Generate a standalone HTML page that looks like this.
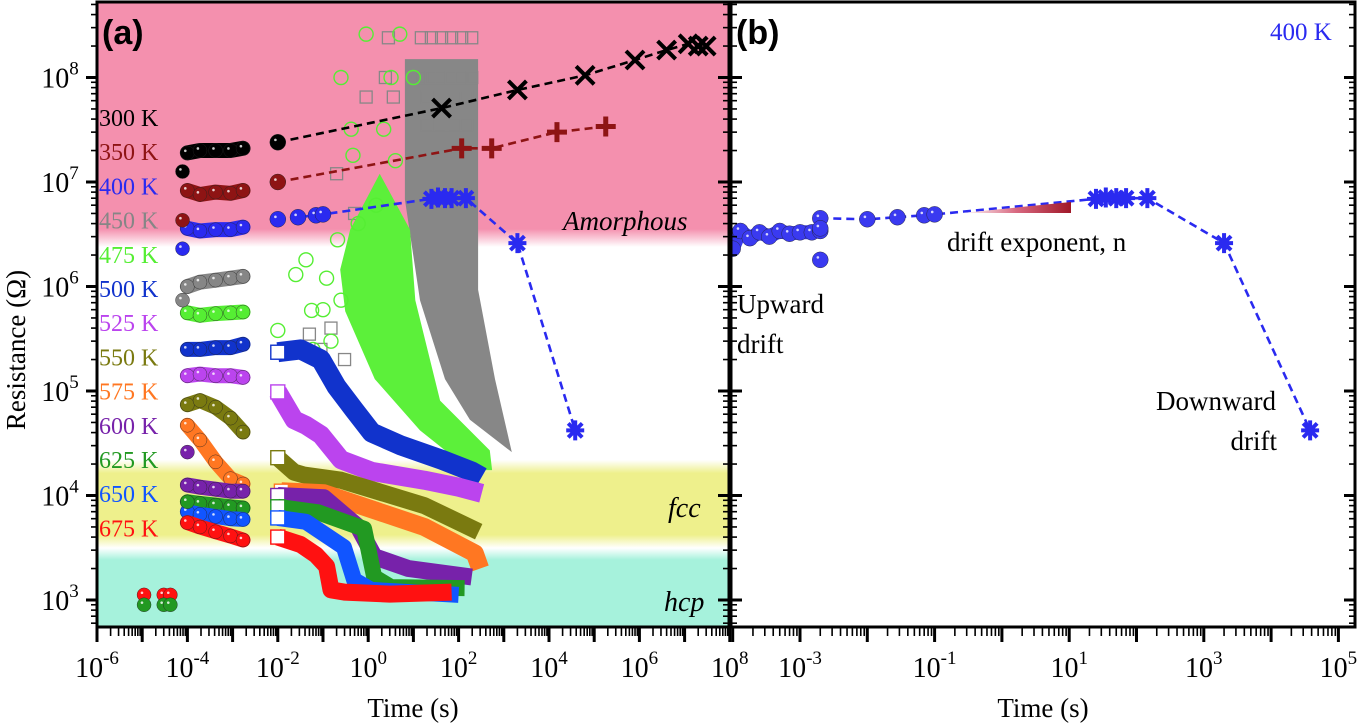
<!DOCTYPE html>
<html><head><meta charset="utf-8">
<style>
html,body{margin:0;padding:0;background:#fff;}
svg{display:block;font-family:"Liberation Serif",serif;}
</style></head>
<body>
<svg id="chart" width="1358" height="725" viewBox="0 0 1358 725" xmlns="http://www.w3.org/2000/svg">
<defs>
  <linearGradient id="pinkfade" x1="0" y1="0" x2="0" y2="1">
    <stop offset="0" stop-color="#f490ae"/><stop offset="1" stop-color="#ffffff"/>
  </linearGradient>
  <linearGradient id="yelband" x1="0" y1="0" x2="0" y2="1">
    <stop offset="0" stop-color="#ffffff"/><stop offset="0.15" stop-color="#eef08c"/><stop offset="0.85" stop-color="#eef08c"/><stop offset="1" stop-color="#ffffff"/>
  </linearGradient>
  <linearGradient id="cyband" x1="0" y1="0" x2="0" y2="1">
    <stop offset="0" stop-color="#ffffff"/><stop offset="0.15" stop-color="#a6f2dc"/><stop offset="1" stop-color="#a6f2dc"/>
  </linearGradient>
  <linearGradient id="drifttri" x1="0" y1="0" x2="1" y2="0">
    <stop offset="0" stop-color="#ffffff"/><stop offset="0.5" stop-color="#d86880"/><stop offset="1" stop-color="#a01828"/>
  </linearGradient>
  <clipPath id="clipA"><rect x="97" y="2" width="632" height="625"/></clipPath>
  <clipPath id="clipB"><rect x="731" y="2" width="624" height="625"/></clipPath>
</defs>
<g id="bg">
  <rect x="97" y="2" width="632" height="228" fill="#f490ae"/>
  <rect x="97" y="229" width="632" height="18" fill="url(#pinkfade)"/>
  <rect x="97" y="460" width="632" height="88" fill="url(#yelband)"/>
  <rect x="97" y="548" width="632" height="79" fill="url(#cyband)"/>
</g>
<g id="plotA" clip-path="url(#clipA)"></g>
<g id="plotB" clip-path="url(#clipB)"></g>
<g id="axes"></g>
<g id="labels">
  <text x="102" y="44" font-family="Liberation Sans, sans-serif" font-weight="bold" font-size="34">(a)</text>
  <text x="736" y="44" font-family="Liberation Sans, sans-serif" font-weight="bold" font-size="34">(b)</text>
  <text x="563" y="230" font-style="italic" font-size="27">Amorphous</text>
  <text x="668" y="517" font-style="italic" font-size="28">fcc</text>
  <text x="664" y="611" font-style="italic" font-size="28">hcp</text>
  <text x="1270" y="40" fill="#2a2af0" font-size="25">400 K</text>
  <text x="737" y="313" font-size="27">Upward</text>
  <text x="737" y="353" font-size="27">drift</text>
  <text x="947" y="251" font-size="27">drift exponent, n</text>
  <text x="1276" y="410" text-anchor="end" font-size="27">Downward</text>
  <text x="1277" y="450" text-anchor="end" font-size="27">drift</text>
  <polygon points="962,213 1071,202 1071,213" fill="url(#drifttri)"/>
  <text transform="translate(25,350) rotate(-90)" text-anchor="middle" font-size="27">Resistance (Ω)</text>
  <text x="413" y="717" text-anchor="middle" font-size="27">Time (s)</text>
  <text x="1043" y="717" text-anchor="middle" font-size="27">Time (s)</text>
</g>
<script>
// ---------- data ----------
const temps = ["300 K","350 K","400 K","450 K","475 K","500 K","525 K","550 K","575 K","600 K","625 K","650 K","675 K"];
const colors = ["#000000","#8e1414","#2a2af0","#868686","#55ee33","#1133cc","#bb44ee","#7a7a10","#ff7722","#7722aa","#229922","#1155ff","#ff1111"];
const earlyT = [1e-4,1.9e-4,4.2e-4,9e-4,1.7e-3];
const earlyR300 = [1.9e7,2.0e7,2.0e7,2.0e7,2.1e7];
const earlyR350 = [8.3e6,7.6e6,8.0e6,7.8e6,8.3e6];
const earlyR400 = [3.6e6,3.4e6,3.5e6,3.5e6,3.7e6];
const earlyR450 = [1.0e6,1.1e6,1.15e6,1.2e6,1.25e6];
const earlyR475 = [5.6e5,5.3e5,5.5e5,5.6e5,5.7e5];
const earlyR500 = [2.5e5,2.5e5,2.6e5,2.6e5,2.8e5];
const earlyR525 = [1.4e5,1.45e5,1.4e5,1.4e5,1.35e5];
const earlyR550 = [7.4e4,8.1e4,7.0e4,5.5e4,4.05e4];
const earlyR575 = [4.7e4,3.4e4,2.1e4,1.45e4,1.29e4];
const earlyR600 = [1.26e4,1.2e4,1.15e4,1.1e4,1.1e4];
const earlyR625 = [8.7e3,8.4e3,8.1e3,7.8e3,7.6e3];
const earlyR650 = [7.0e3,6.6e3,6.3e3,6.0e3,5.9e3];
const earlyR675 = [5.5e3,5.0e3,4.5e3,4.1e3,3.75e3];
const earlySingleT = [7.8e-5,7.8e-5,7.8e-5,7.8e-5,1e-4,1e-4];
const earlySingleR = [1.26e7,4.3e6,2.3e6,7.4e5,2.6e4,8.7e3];
const earlySingleC = [0,1,2,3,9,10];
const t500 = [0.01,0.032,0.09,0.2,0.49,1.2,5.4,42,195,324];
const R500 = [2.35e5,2.5e5,2.0e5,1.1e5,6.6e4,4.0e4,3.0e4,2.2e4,1.7e4,1.5e4];
const t525 = [0.01,0.023,0.042,0.09,0.25,1.2,17.5,100,324];
const R525 = [9.8e4,5.3e4,4.7e4,3.8e4,2.2e4,1.7e4,1.4e4,1.2e4,1.05e4];
const t550 = [0.01,0.023,0.038,0.25,17.5,278];
const R550 = [2.3e4,1.67e4,1.57e4,1.4e4,8.0e3,4.5e3];
const t575 = [0.012,0.105,17.5,228,300];
const R575 = [1.1e4,1.05e4,5.0e3,2.8e3,2.0e3];
const t600 = [0.01,0.105,0.6,1.36,7.7,195];
const R600 = [1.0e4,9.5e3,5.0e3,2.6e3,2.0e3,1.66e3];
const t625 = [0.01,0.078,0.81,1.36,3.2,136];
const R625 = [7.8e3,6.9e3,4.8e3,1.66e3,1.33e3,1.3e3];
const t650 = [0.01,0.042,0.29,0.49,1.17,100];
const R650 = [6.1e3,5.6e3,3.2e3,1.55e3,1.25e3,1.12e3];
const t675 = [0.01,0.032,0.07,0.12,0.15,0.3,3,70];
const R675 = [4.0e3,3.4e3,2.7e3,2.1e3,1.25e3,1.19e3,1.14e3,1.19e3];
const grayEnvT = [6.5,270,270,640,1500,1500,178,50,14,6.5];
const grayEnvR = [1.5e8,1.5e8,9.3e5,1.3e5,2.6e4,2.6e4,5.3e4,1.3e5,7.4e5,6.8e6];
const greenEnvT = [0.40,1.8,8.4,11,39,490,550,178,14,1.4,0.31,0.24];
const greenEnvR = [3.5e6,1.2e7,3.5e6,7.4e5,8.1e4,2.7e4,1.75e4,1.75e4,4.2e4,1.3e5,5.8e5,1.45e6];
const graySqT = [15,25,42,70,117,195,15,25,42,70,117,195,2.8,2.4,0.9,3.6,0.2,0.5,1.2,0.05,0.09,0.15,0.3,20,40,80,150,20,40,80,150];
const graySqR = [2.4e8,2.4e8,2.4e8,2.4e8,2.4e8,2.4e8,1e8,1e8,1e8,1e8,1e8,1e8,2.4e8,1e8,6.5e7,6.5e7,1.2e7,5e6,3e6,3.5e5,2.5e5,4e5,2e5,6.5e7,6.5e7,6.5e7,6.5e7,3.5e7,3.5e7,3.5e7,3.5e7];
const greenCircT = [0.9,5,0.25,3.2,10,0.42,2.2,0.46,4,0.21,0.025,0.042,0.056,0.01,0.25,0.6,1.5,0.1,0.15,0.06,0.12];
const greenCircR = [2.6e8,2.6e8,1e8,1e8,1e8,3.2e7,3.2e7,1.8e7,1.6e7,2.8e6,1.3e6,1.8e6,5.9e5,3.8e5,7.4e5,4e6,6e6,6e5,3e5,2.5e5,1.2e6];
const t300 = [0.01,42,2000,6.3e4,8e5,4e6,1.2e7,2e7,3e7];
const R300 = [2.4e7,5.1e7,7.6e7,1.05e8,1.47e8,1.83e8,2.1e8,2.0e8,2.0e8];
const t350 = [0.01,117,540,1.5e4,1.8e5];
const R350 = [1.0e7,2.1e7,2.1e7,3.0e7,3.4e7];
const t400 = [0.01,0.028,0.07,0.1];
const R400 = [4.4e6,4.6e6,4.8e6,4.9e6];
const t400s = [25,35,50,70,145,2000,3.8e4];
const R400s = [6.9e6,7.1e6,7.0e6,7.0e6,7.0e6,2.6e6,4.2e4];
const tB = [1e-4,1.3e-4,1.8e-4,2.5e-4,3.5e-4,5e-4,7e-4,1e-3,1.5e-3,2e-3,2e-3,2e-3,2e-3];
const RB = [2.3e6,3.4e6,2.9e6,3.3e6,3.0e6,3.4e6,3.2e6,3.3e6,3.3e6,3.4e6,4.5e6,3.6e6,1.8e6];
const xTicksA = [-6,-4,-2,0,2,4,6,8];
const xTicksB = [-3,-1,1,3,5];
const yTicks = [3,4,5,6,7,8];

// ---------- scales ----------
const L = Math.log10;
function xa(t){ return 97 + (L(t)+6)*45.2; }
function xb(t){ return 800 + (L(t)+3)*67.3; }
function yv(r){ return 600 - (L(r)-3)*104.5; }
const NS = "http://www.w3.org/2000/svg";
const gA = document.getElementById('plotA');
const gB = document.getElementById('plotB');
const gX = document.getElementById('axes');
function mk(tag, attrs, parent){
  const e = document.createElementNS(NS, tag);
  for (const k in attrs) e.setAttribute(k, attrs[k]);
  parent.appendChild(e); return e;
}
function pts(ts, rs, xf){ return ts.map((t,i)=>xf(t).toFixed(1)+','+yv(rs[i]).toFixed(1)).join(' '); }
function ball(x,y,c,r,parent,name){
  const e = mk('circle',{cx:x,cy:y,r:r,fill:c,stroke:'#222','stroke-width':0.4},parent);
  
  
  const h = mk('circle',{cx:x-r*0.3,cy:y-r*0.3,r:1.3,fill:'#fff','fill-opacity':0.8},parent);
  
  
}
function powLabel(x,y,exp,anchor,name){
  const t = mk('text',{x:x,y:y,'text-anchor':anchor,'font-size':28},gX);
  
  
  t.appendChild(document.createTextNode('10'));
  const s = document.createElementNS(NS,'tspan');
  s.setAttribute('dy','-13');
  s.setAttribute('font-size','19');
  s.textContent = String(exp);
  t.appendChild(s);
}

// ---------- panel a ----------
let e;
e = mk('polygon',{points:pts(grayEnvT,grayEnvR,xa),fill:'#878787'},gA);


graySqT.forEach((t,i)=>{
  const s = mk('rect',{x:xa(t)-6,y:yv(graySqR[i])-6,width:12,height:12,fill:'none',stroke:'#878787','stroke-width':1.3},gA);
  
  
});
e = mk('polygon',{points:pts(greenEnvT,greenEnvR,xa),fill:'#5cf03a'},gA);


greenCircT.forEach((t,i)=>{
  const c = mk('circle',{cx:xa(t),cy:yv(greenCircR[i]),r:7,fill:'none',stroke:'#55ee33','stroke-width':1.4},gA);
  
  
});
const bands = [[t500,R500,5,20,'series-500k'],[t525,R525,6,19,'series-525k'],[t550,R550,7,17,'series-550k'],[t575,R575,8,18,'series-575k'],[t600,R600,9,17,'series-600k'],[t625,R625,10,16,'series-625k'],[t650,R650,11,16,'series-650k'],[t675,R675,12,17,'series-675k']];
bands.forEach(b=>{
  const pl = mk('polyline',{points:pts(b[0],b[1],xa),fill:'none',stroke:colors[b[2]],'stroke-width':b[3],'stroke-linejoin':'round','stroke-linecap':'butt'},gA);
  
  
  const m = mk('rect',{x:xa(b[0][0])-7,y:yv(b[1][0])-7,width:14,height:14,fill:'#fff',stroke:colors[b[2]],'stroke-width':1.4},gA);
  
  
});
const earlies = [earlyR300,earlyR350,earlyR400,earlyR450,earlyR475,earlyR500,earlyR525,earlyR550,earlyR575,earlyR600,earlyR625,earlyR650,earlyR675];
earlies.forEach((rs,k)=>{
  const pl = mk('polyline',{points:pts(earlyT,rs,xa),fill:'none',stroke:colors[k],'stroke-width':15,'stroke-linejoin':'round','stroke-linecap':'round'},gA);
  
  
  earlyT.forEach((t,i)=> ball(xa(t), yv(rs[i]), colors[k], 7, gA, 'early-point'));
});
earlySingleT.forEach((t,i)=> ball(xa(t), yv(earlySingleR[i]), colors[earlySingleC[i]], 7, gA, 'early-single-point'));
const hcpT = [1.1e-5,1.1e-5,3e-5,4.2e-5,3e-5,4.2e-5];
const hcpR = [1.12e3,0.9e3,1.12e3,1.12e3,0.9e3,0.9e3];
const hcpC = [12,10,12,12,10,10];
hcpT.forEach((t,i)=> ball(xa(t), yv(hcpR[i]), colors[hcpC[i]], 7, gA, 'hcp-cluster-point'));

function dashed(ts,rs,c,xf,g,name){
  const pl = mk('polyline',{points:pts(ts,rs,xf),fill:'none',stroke:c,'stroke-width':2.6,'stroke-dasharray':'8,5'},g);
  
  
}
function xmark(x,y,c,g,name){
  const p = mk('path',{d:`M${x-9},${y-9}L${x+9},${y+9}M${x-9},${y+9}L${x+9},${y-9}`,stroke:c,'stroke-width':4},g);
  
  
}
function plus(x,y,c,g,name){
  const p = mk('path',{d:`M${x-10},${y}L${x+10},${y}M${x},${y-10}L${x},${y+10}`,stroke:c,'stroke-width':5},g);
  
  
}
function star(x,y,c,g,name){
  const p = mk('path',{d:`M${x-9},${y}L${x+9},${y}M${x},${y-10}L${x},${y+10}M${x-7},${y-7}L${x+7},${y+7}M${x-7},${y+7}L${x+7},${y-7}`,stroke:c,'stroke-width':4},g);
  
  
}
dashed(t300,R300,'#000',xa,gA,'drift-line-300k');
t300.forEach((t,i)=>{ if(i===0) ball(xa(t),yv(R300[i]),'#000',8,gA,'point-300k'); else xmark(xa(t),yv(R300[i]),'#000',gA,'x-marker-300k'); });
dashed(t350,R350,'#8e1414',xa,gA,'drift-line-350k');
t350.forEach((t,i)=>{ if(i===0) ball(xa(t),yv(R350[i]),'#8e1414',8,gA,'point-350k'); else plus(xa(t),yv(R350[i]),'#8e1414',gA,'plus-marker-350k'); });
dashed(t400.concat(t400s),R400.concat(R400s),'#2a2af0',xa,gA,'drift-line-400k');
t400.forEach((t,i)=> ball(xa(t),yv(R400[i]),'#2a2af0',8,gA,'point-400k'));
t400s.forEach((t,i)=> star(xa(t),yv(R400s[i]),'#2a2af0',gA,'star-marker-400k'));

// ---------- panel b ----------
dashed([tB[10]].concat(t400,t400s),[RB[10]].concat(R400,R400s),'#2a2af0',xb,gB,'drift-line-400k-b');
const clb = mk('polyline',{points:pts(tB.slice(0,10),RB.slice(0,10),xb),fill:'none',stroke:'#3a3af0','stroke-width':14,'stroke-linejoin':'round','stroke-linecap':'round'},gB);


tB.forEach((t,i)=> ball(xb(t),yv(RB[i]),'#3a3af0',8,gB,'point-400k-b'));
t400.forEach((t,i)=> ball(xb(t),yv(R400[i]),'#3a3af0',8,gB,'point-400k-b'));
t400s.forEach((t,i)=> star(xb(t),yv(R400s[i]),'#2a2af0',gB,'star-marker-400k-b'));

// ---------- axes ----------
function line(x1,y1,x2,y2,w,g,name){
  const l = mk('line',{x1:x1,y1:y1,x2:x2,y2:y2,stroke:'#000','stroke-width':w},g);
  
  
}
const fa = mk('rect',{x:97,y:2,width:632,height:625,fill:'none',stroke:'#000','stroke-width':3},gX);


const fb = mk('rect',{x:731,y:2,width:624,height:625,fill:'none',stroke:'#000','stroke-width':3},gX);


for(let d=-6; d<=8; d++){
  const x = xa(Math.pow(10,d));
  line(x,627,x,642,3,gX,'x-major-tick-a');
  if(d<8) for(let m=2;m<=9;m++){ const xm = xa(m*Math.pow(10,d)); line(xm,627,xm,636,1.6,gX,'x-minor-tick-a'); }
}
xTicksA.forEach(d=> powLabel(xa(Math.pow(10,d)),677,d,'middle','x-tick-label-a'));
for(let d=-4; d<=5; d++){
  const x = xb(Math.pow(10,d));
  if(x>=731) line(x,627,x,642,3,gX,'x-major-tick-b');
  for(let m=2;m<=9;m++){ const xm = xb(m*Math.pow(10,d)); if(xm>731 && xm<1355) line(xm,627,xm,636,1.6,gX,'x-minor-tick-b'); }
}
xTicksB.forEach(d=> powLabel(xb(Math.pow(10,d)),677,d,'middle','x-tick-label-b'));
for(let d=2; d<=8; d++){
  for(let m=1;m<=9;m++){
    const y = yv(m*Math.pow(10,d));
    if(y<3||y>626) continue;
    const len = m===1?11:6, w = m===1?3:1.6;
    line(97-len,y,97,y,w,gX,'y-tick-a');
    line(729-len,y,729,y,w,gX,'y-tick-a-right');
    line(731,y,731+len,y,w,gX,'y-tick-b');
    line(1355-len,y,1355,y,w,gX,'y-tick-b-right');
  }
}
yTicks.forEach(d=> powLabel(60,yv(Math.pow(10,d))+10,d,'middle','y-tick-label'));
temps.forEach((s,i)=>{
  const t = mk('text',{x:99,y:126+i*34.2,'font-size':24,fill:colors[i]},gX);
  
  
  t.textContent = s;
});
</script>
</svg>
</body></html>
